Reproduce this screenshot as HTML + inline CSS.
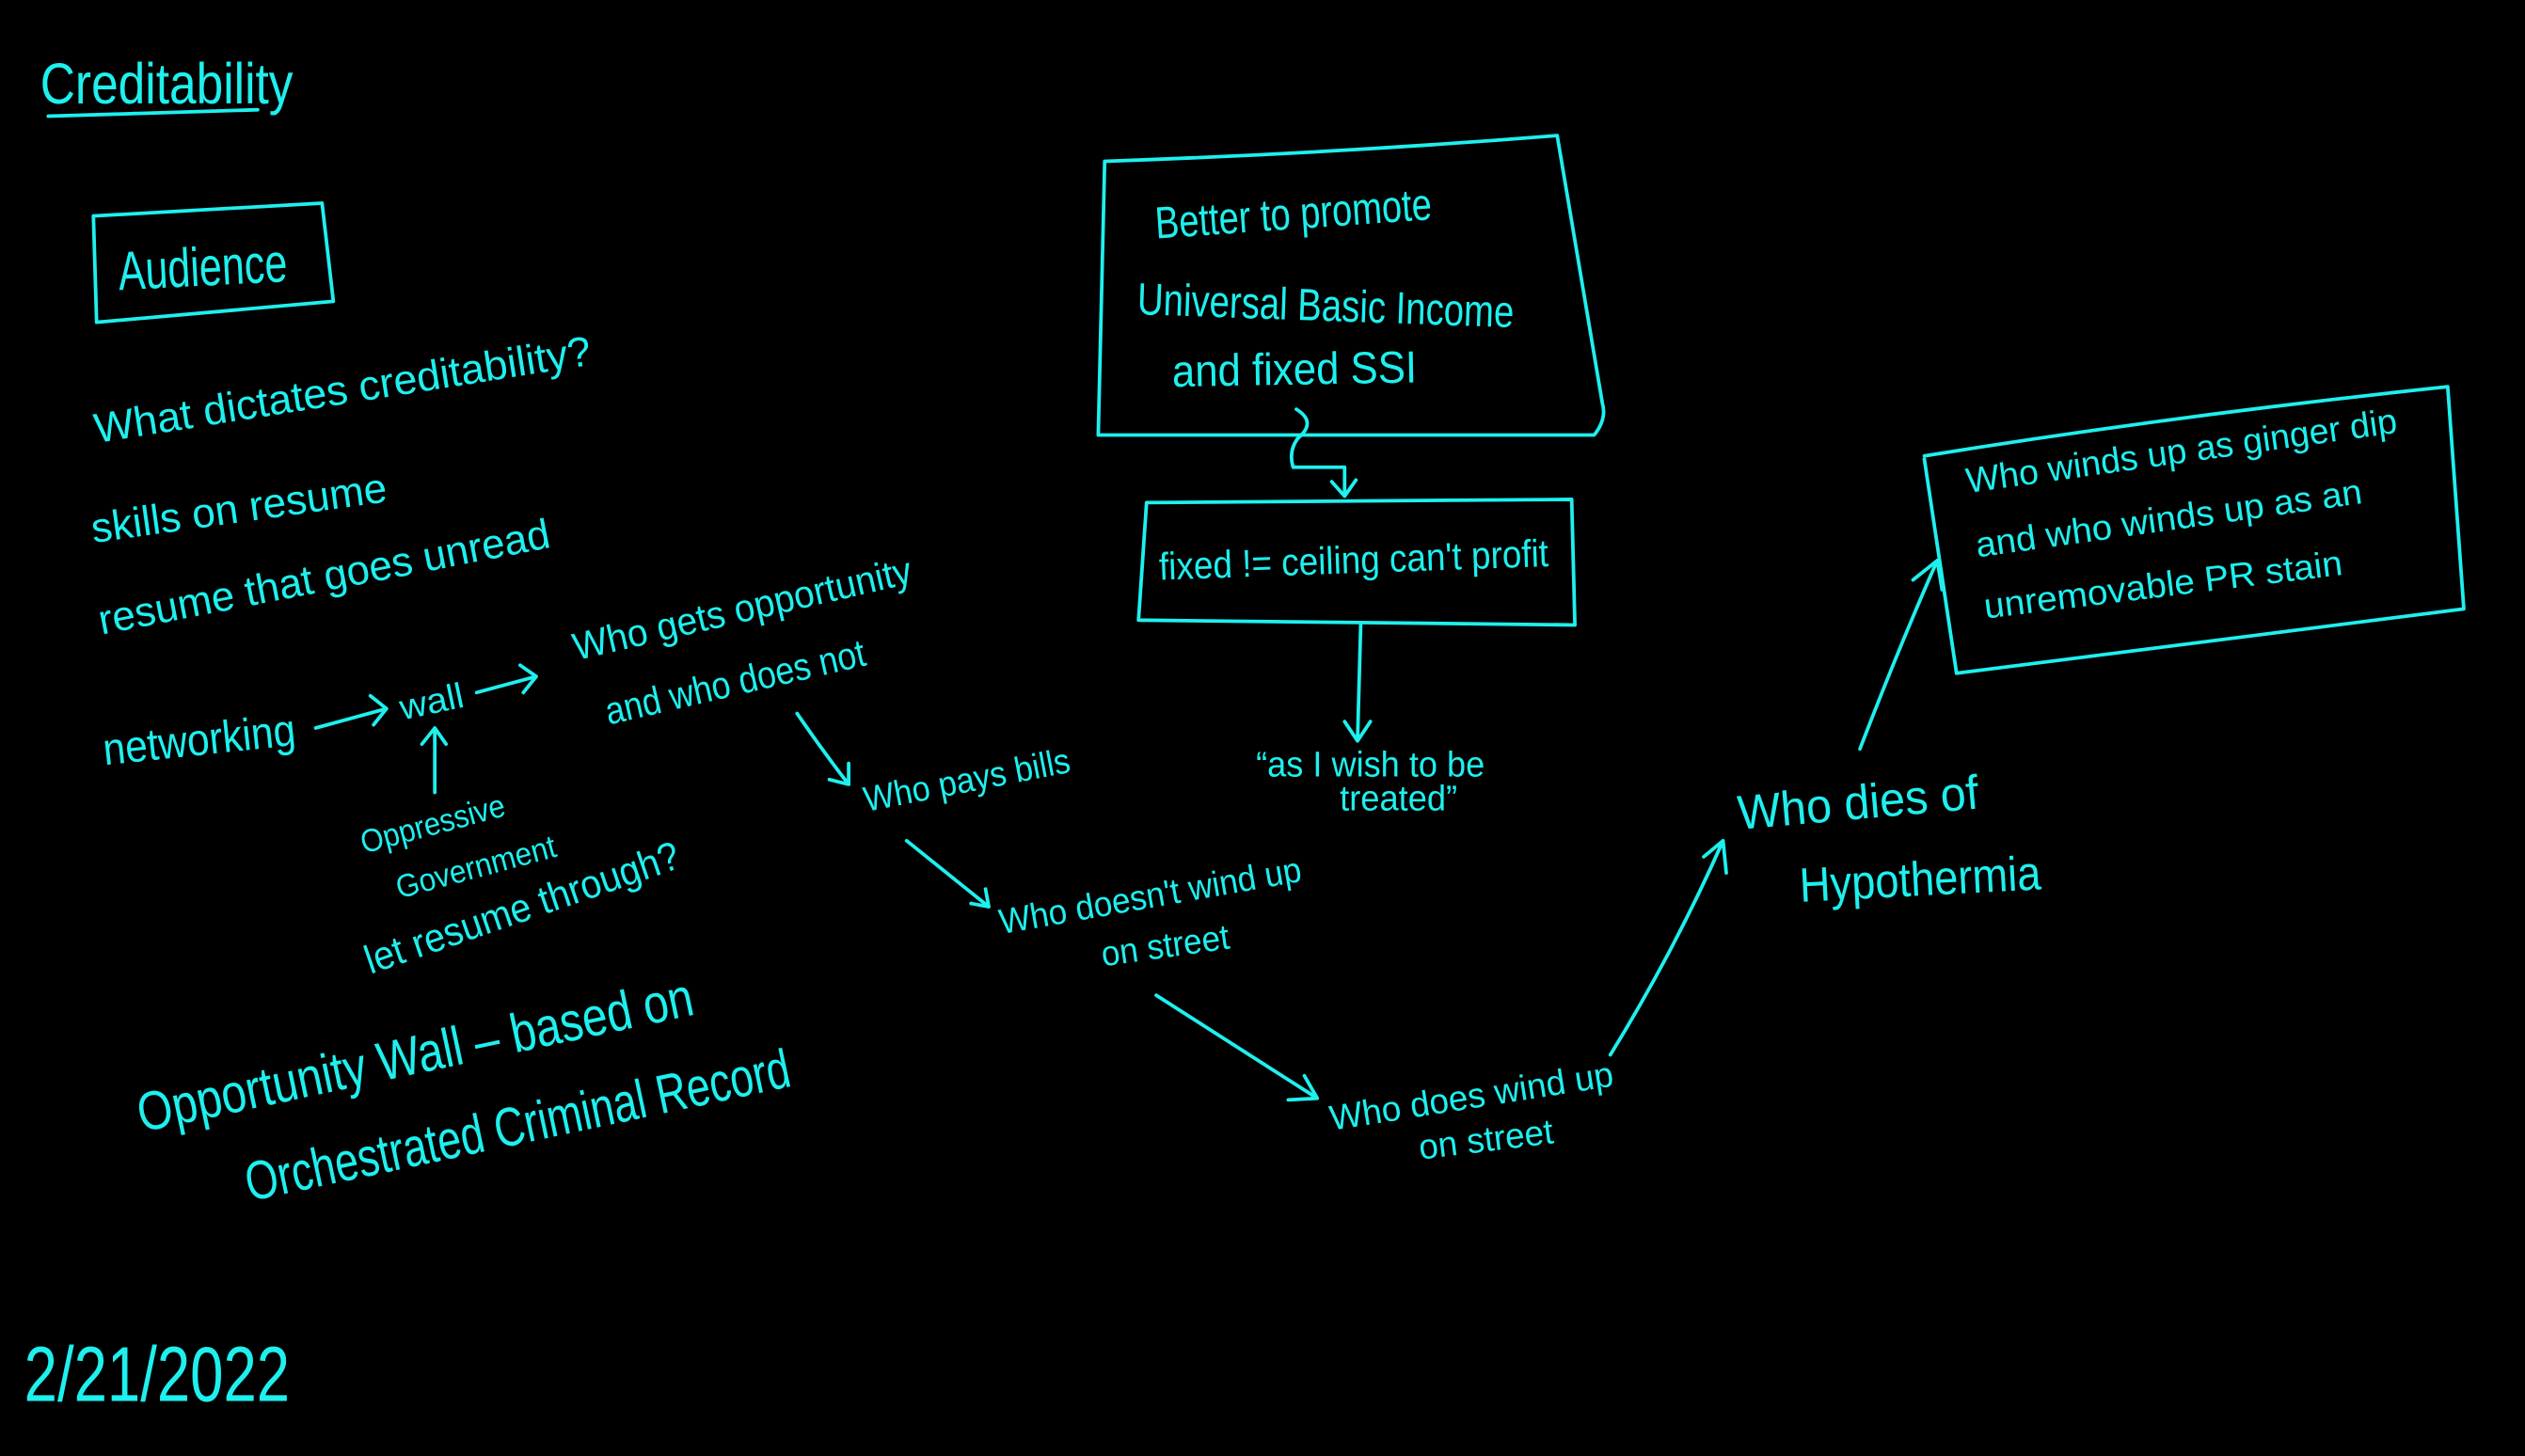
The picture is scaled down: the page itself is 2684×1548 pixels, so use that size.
<!DOCTYPE html>
<html><head><meta charset="utf-8"><style>
html,body{margin:0;padding:0;background:#000;}
svg{display:block}
text{font-family:"Liberation Sans",sans-serif;fill:#1ef0ee;}
.l{fill:none;stroke:#1ef0ee;stroke-width:2.2;stroke-linecap:round;stroke-linejoin:round}
</style></head><body>
<svg width="2684" height="1548" viewBox="0 0 1568 904" xmlns="http://www.w3.org/2000/svg">
<rect width="1568" height="904" fill="#000"/>
<text x="25" y="64" font-size="36" textLength="157" lengthAdjust="spacingAndGlyphs">Creditability</text>
<path class="l" d="M30 72 L160 68"/>
<path class="l" d="M58 134 L60 200 L207 187 L200 126 Z"/>
<text x="74" y="180" font-size="34" textLength="105" lengthAdjust="spacingAndGlyphs" transform="rotate(-3 74 180)">Audience</text>
<text x="60" y="275" font-size="26" textLength="312" lengthAdjust="spacingAndGlyphs" transform="rotate(-9 60 275)">What dictates creditability?</text>
<text x="58" y="337" font-size="26" textLength="185" lengthAdjust="spacingAndGlyphs" transform="rotate(-8 58 337)">skills on resume</text>
<text x="63" y="394" font-size="26" textLength="285" lengthAdjust="spacingAndGlyphs" transform="rotate(-11 63 394)">resume that goes unread</text>
<text x="65" y="475" font-size="28" textLength="120" lengthAdjust="spacingAndGlyphs" transform="rotate(-6 65 475)">networking</text>
<path class="l" d="M196 452 L240 440 M230 432 L240 440 L232 450"/>
<text x="250" y="447" font-size="22" textLength="40" lengthAdjust="spacingAndGlyphs" transform="rotate(-12 250 447)">wall</text>
<path class="l" d="M296 430 L333 420 M323 413 L333 420 L325 430"/>
<path class="l" d="M270 492 L270 452 M262 462 L270 452 L277 462"/>
<text x="226" y="530" font-size="20" textLength="92" lengthAdjust="spacingAndGlyphs" transform="rotate(-15 226 530)">Oppressive</text>
<text x="248" y="558" font-size="20" textLength="102" lengthAdjust="spacingAndGlyphs" transform="rotate(-15 248 558)">Government</text>
<text x="230" y="605" font-size="25" textLength="205" lengthAdjust="spacingAndGlyphs" transform="rotate(-19 230 605)">let resume through?</text>
<text x="358" y="410" font-size="24" textLength="215" lengthAdjust="spacingAndGlyphs" transform="rotate(-13 358 410)">Who gets opportunity</text>
<text x="378" y="450" font-size="24" textLength="165" lengthAdjust="spacingAndGlyphs" transform="rotate(-13 378 450)">and who does not</text>
<path class="l" d="M495 443 Q510 465 527 487 M527 474 L527 487 L515 484"/>
<text x="538" y="504" font-size="22" textLength="130" lengthAdjust="spacingAndGlyphs" transform="rotate(-11 538 504)">Who pays bills</text>
<path class="l" d="M563 522 L614 563 M603 561 L614 563 L612 552"/>
<text x="622" y="580" font-size="22" textLength="190" lengthAdjust="spacingAndGlyphs" transform="rotate(-10 622 580)">Who doesn't wind up</text>
<text x="685" y="600" font-size="22" textLength="80" lengthAdjust="spacingAndGlyphs" transform="rotate(-8 685 600)">on street</text>
<path class="l" d="M718 618 L818 682 M800 683 L818 682 L810 668"/>
<text x="827" y="702" font-size="22" textLength="178" lengthAdjust="spacingAndGlyphs" transform="rotate(-9 827 702)">Who does wind up</text>
<text x="882" y="720" font-size="22" textLength="84" lengthAdjust="spacingAndGlyphs" transform="rotate(-7 882 720)">on street</text>
<path class="l" d="M1000 655 Q1040 590 1070 522 M1058 532 L1070 522 L1072 542"/>
<text x="1080" y="515" font-size="30" textLength="150" lengthAdjust="spacingAndGlyphs" transform="rotate(-5 1080 515)">Who dies of</text>
<text x="1118" y="560" font-size="30" textLength="150" lengthAdjust="spacingAndGlyphs" transform="rotate(-3 1118 560)">Hypothermia</text>
<path class="l" d="M1155 465 Q1180 400 1203 348 M1188 360 L1203 348 L1206 366"/>
<path class="l" d="M1195 285 L1215 418 L1530 378 L1520 240 Q1350 258 1195 283"/>
<text x="1222" y="306" font-size="22" textLength="270" lengthAdjust="spacingAndGlyphs" transform="rotate(-8 1222 306)">Who winds up as ginger dip</text>
<text x="1228" y="346" font-size="22" textLength="242" lengthAdjust="spacingAndGlyphs" transform="rotate(-8 1228 346)">and who winds up as an</text>
<text x="1233" y="384" font-size="22" textLength="224" lengthAdjust="spacingAndGlyphs" transform="rotate(-7 1233 384)">unremovable  PR stain</text>
<path class="l" d="M686 100 L682 270 L990 270 Q998 260 995 250 L967 84 Q830 95 686 100"/>
<text x="718" y="148" font-size="28" textLength="172" lengthAdjust="spacingAndGlyphs" transform="rotate(-4 718 148)">Better to promote</text>
<text x="706" y="195" font-size="28" textLength="234" lengthAdjust="spacingAndGlyphs" transform="rotate(2 706 195)">Universal Basic Income</text>
<text x="728" y="240" font-size="28" textLength="152" lengthAdjust="spacingAndGlyphs" transform="rotate(-1 728 240)">and fixed SSI</text>
<path class="l" d="M805 254 Q818 262 806 272 Q800 280 803 290 L835 290 L835 308 M827 299 L835 308 L842 298"/>
<path class="l" d="M712 312 L707 385 L978 388 L976 310 Z"/>
<text x="720" y="360" font-size="24" textLength="242" lengthAdjust="spacingAndGlyphs" transform="rotate(-2 720 360)">fixed != ceiling can't profit</text>
<path class="l" d="M845 388 L843 460 M835 448 L843 460 L851 448"/>
<text x="780" y="482" font-size="22" textLength="142" lengthAdjust="spacingAndGlyphs">“as I wish to be</text>
<text x="832" y="503" font-size="22" textLength="73" lengthAdjust="spacingAndGlyphs">treated”</text>
<text x="88" y="703" font-size="34" textLength="352" lengthAdjust="spacingAndGlyphs" transform="rotate(-12 88 703)">Opportunity Wall – based on</text>
<text x="155" y="746" font-size="34" textLength="345" lengthAdjust="spacingAndGlyphs" transform="rotate(-12 155 746)">Orchestrated Criminal Record</text>
<text x="15" y="870" font-size="48" textLength="165" lengthAdjust="spacingAndGlyphs">2/21/2022</text>
</svg>
</body></html>
